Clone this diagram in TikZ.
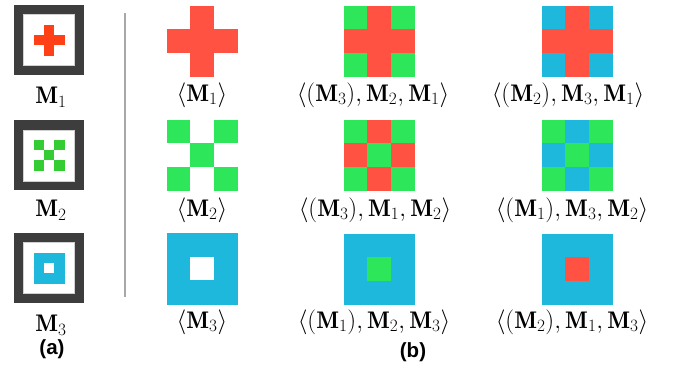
\documentclass[tikz,border=0pt]{standalone}
\usepackage{fontspec}
\usepackage{amsmath}
\newfontfamily\capfont{Liberation Sans}
\DeclareMathSizes{24}{24}{18}{14}
\definecolor{mred}{HTML}{FF5243}
\definecolor{mgreen}{HTML}{2EE65A}
\definecolor{mblue}{HTML}{1EB8DC}
\definecolor{ared}{HTML}{FF4017}
\definecolor{agreen}{HTML}{33CC33}
\definecolor{framegray}{HTML}{3D3D3D}
\definecolor{rulegray}{HTML}{A8A8A8}

% 3x3 tile pattern: #1,#2 top-left corner, #3 cell size, #4 nine colours row by row
\newcommand\tilegrid[4]{%
  \foreach \c [count=\i from 0] in {#4} {%
    \pgfmathtruncatemacro\cx{mod(\i,3)}%
    \pgfmathtruncatemacro\cy{div(\i,3)}%
    \fill[\c, draw=\c, line width=0.3pt]
      ({#1+\cx*#3},{#2+\cy*#3}) rectangle ++(#3,#3);
  }%
}
% framed motif in the left column: #1,#2 top-left corner of the frame
\newcommand\motifframe[2]{%
  \fill[framegray] (#1,#2) rectangle ++(70,70);
  \fill[white, draw=black!18, line width=0.6pt] ({#1+9.5},{#2+9.5}) rectangle ++(51,51);
}

\tikzset{
  lab/.style={font=\fontsize{24}{28}\selectfont, inner sep=0pt},
  sublab/.style={font=\capfont\bfseries\fontsize{20.5}{24}\selectfont, inner sep=0pt}
}

\begin{document}
\begin{tikzpicture}[x=1pt,y=-1pt]
\useasboundingbox (0,0) rectangle (681,371);
\fill[white] (0,0) rectangle (681,371);

% ---- (a) the three motifs ----
\motifframe{14}{5}
\tilegrid{34}{25.5}{10}{white,ared,white,ared,ared,ared,white,ared,white}
\motifframe{14}{120.5}
\tilegrid{34}{140.5}{10}{agreen,white,agreen,white,agreen,white,agreen,white,agreen}
\motifframe{14}{233}
\tilegrid{34}{253}{10}{mblue,mblue,mblue,mblue,white,mblue,mblue,mblue,mblue}

\node[lab] (m1) at (51,97) {$\mathbf{M}_1$};
\node[lab] (m2) at (51,210) {$\mathbf{M}_2$};
\node[lab] (m3) at (51,325) {$\mathbf{M}_3$};
\node[sublab] (cap-a) at (52,349) {(a)};

% separator
\draw[rulegray, line width=1.6pt] (125,13) -- (125,297);

% ---- (b) compositions ----
% row 1
\tilegrid{167}{6}{23.5}{white,mred,white,mred,mred,mred,white,mred,white}
\tilegrid{344}{6}{23.5}{mgreen,mred,mgreen,mred,mred,mred,mgreen,mred,mgreen}
\tilegrid{542}{6}{23.5}{mblue,mred,mblue,mred,mred,mred,mblue,mred,mblue}
% row 2
\tilegrid{167}{120}{23.5}{mgreen,white,mgreen,white,mgreen,white,mgreen,white,mgreen}
\tilegrid{344}{120}{23.5}{mgreen,mred,mgreen,mred,mgreen,mred,mgreen,mred,mgreen}
\tilegrid{542}{120}{23.5}{mgreen,mblue,mgreen,mblue,mgreen,mblue,mgreen,mblue,mgreen}
% row 3
\tilegrid{167}{233.5}{23.5}{mblue,mblue,mblue,mblue,white,mblue,mblue,mblue,mblue}
\tilegrid{344}{234}{23.5}{mblue,mblue,mblue,mblue,mgreen,mblue,mblue,mblue,mblue}
\tilegrid{542}{234}{23.5}{mblue,mblue,mblue,mblue,mred,mblue,mblue,mblue,mblue}

\node[lab] (l11) at (202,95) {$\langle\mathbf{M}_1\rangle$};
\node[lab] (l12) at (373,95) {$\langle(\mathbf{M}_3),\mathbf{M}_2,\mathbf{M}_1\rangle$};
\node[lab] (l13) at (568,95) {$\langle(\mathbf{M}_2),\mathbf{M}_3,\mathbf{M}_1\rangle$};
\node[lab] (l21) at (202,210) {$\langle\mathbf{M}_2\rangle$};
\node[lab] (l22) at (375,210) {$\langle(\mathbf{M}_3),\mathbf{M}_1,\mathbf{M}_2\rangle$};
\node[lab] (l23) at (572,210) {$\langle(\mathbf{M}_1),\mathbf{M}_3,\mathbf{M}_2\rangle$};
\node[lab] (l31) at (202,322) {$\langle\mathbf{M}_3\rangle$};
\node[lab] (l32) at (374,322) {$\langle(\mathbf{M}_1),\mathbf{M}_2,\mathbf{M}_3\rangle$};
\node[lab] (l33) at (572,322) {$\langle(\mathbf{M}_2),\mathbf{M}_1,\mathbf{M}_3\rangle$};
\node[sublab] (cap-b) at (413,352) {(b)};
\end{tikzpicture}
\end{document}
